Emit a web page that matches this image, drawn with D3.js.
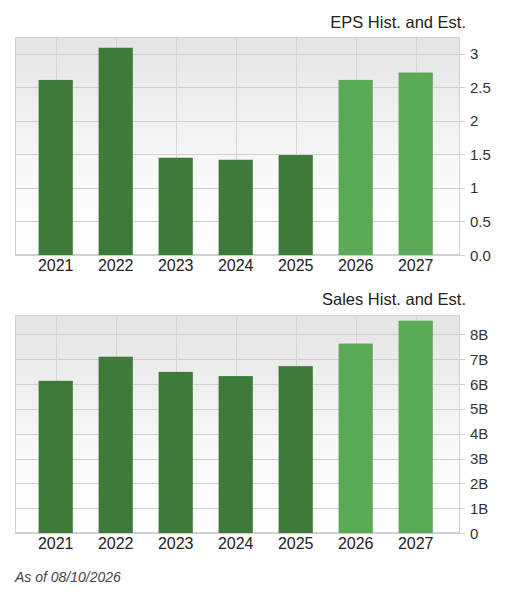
<!DOCTYPE html>
<html><head><meta charset="utf-8">
<script src="https://cdn.jsdelivr.net/npm/d3@7"></script>
<style>body{margin:0;background:#fff;font-family:"Liberation Sans",Arial,sans-serif}</style>
</head><body>
<svg id="c" width="517" height="597"></svg>
<script>
const years = ["2021","2022","2023","2024","2025","2026","2027"];
const estimate = [false,false,false,false,false,true,true];
const epsValues = [2.61,3.09,1.45,1.42,1.49,2.61,2.72];
const salesValues = [6.13,7.10,6.49,6.32,6.72,7.63,8.55];
const epsTicks = [0,0.5,1,1.5,2,2.5,3];
const epsTickLabels = ["0.0","0.5","1","1.5","2","2.5","3"];
const salesTicks = [0,1,2,3,4,5,6,7,8];
const salesTickLabels = ["0","1B","2B","3B","4B","5B","6B","7B","8B"];

const svg = d3.select("#c");
const defs = svg.append("defs");
const g = defs.append("linearGradient").attr("id","bg").attr("x1",0).attr("y1",0).attr("x2",0).attr("y2",1);
g.append("stop").attr("offset","0%").attr("stop-color","#e4e4e4");
g.append("stop").attr("offset","70%").attr("stop-color","#fbfbfb");
g.append("stop").attr("offset","100%").attr("stop-color","#ffffff");

function panel(title, titleY, top, bottom, maxV, values, ticks, labels){
  const L=15, R=460;
  const x = d3.scaleBand().domain(years).range([25.7,445.7]).paddingInner(0.43).paddingOuter(0.215);
  const y = d3.scaleLinear().domain([0,maxV]).range([bottom,top]);
  const gr = svg.append("g");
  gr.append("rect").attr("x",L).attr("y",top).attr("width",R-L).attr("height",bottom-top).attr("fill","url(#bg)");
  gr.selectAll(".h").data(ticks).join("line").attr("x1",L).attr("x2",R+5)
    .attr("y1",d=>Math.round(y(d))+0.5).attr("y2",d=>Math.round(y(d))+0.5).attr("stroke","#cfcfcf");
  gr.selectAll(".v").data(years).join("line")
    .attr("x1",d=>Math.round(x(d)+x.bandwidth()/2)+0.5).attr("x2",d=>Math.round(x(d)+x.bandwidth()/2)+0.5)
    .attr("y1",top).attr("y2",bottom).attr("stroke","#d4d4d4");
  gr.append("rect").attr("x",L+0.5).attr("y",top+0.5).attr("width",R-L-1).attr("height",bottom-top-1)
    .attr("fill","none").attr("stroke","#d0d0d0");
  gr.selectAll(".b").data(values).join("rect")
    .attr("x",(d,i)=>x(years[i])).attr("width",x.bandwidth())
    .attr("y",d=>y(d)).attr("height",d=>bottom-y(d))
    .attr("fill",(d,i)=>estimate[i]?"#5aa955":"#3e7a39");
  gr.selectAll(".yl").data(ticks).join("text").attr("x",470).attr("y",d=>y(d)+5.5)
    .attr("font-size",15).attr("fill","#333").text((d,i)=>labels[i]);
  gr.selectAll(".xl").data(years).join("text").attr("x",d=>x(d)+x.bandwidth()/2).attr("y",bottom+16)
    .attr("text-anchor","middle").attr("font-size",16).attr("fill","#222").text(d=>d);
  gr.append("text").attr("x",466).attr("y",titleY).attr("text-anchor","end").attr("font-size",16.5)
    .attr("fill","#222").text(title);
}
panel("EPS Hist. and Est.",28,37,255,3.25,epsValues,epsTicks,epsTickLabels);
panel("Sales Hist. and Est.",305,315,533,8.78,salesValues,salesTicks,salesTickLabels);
svg.append("text").attr("x",15).attr("y",582).attr("font-size",14).attr("font-style","italic")
  .attr("fill","#444").text("As of 08/10/2026");
</script>
</body></html>
